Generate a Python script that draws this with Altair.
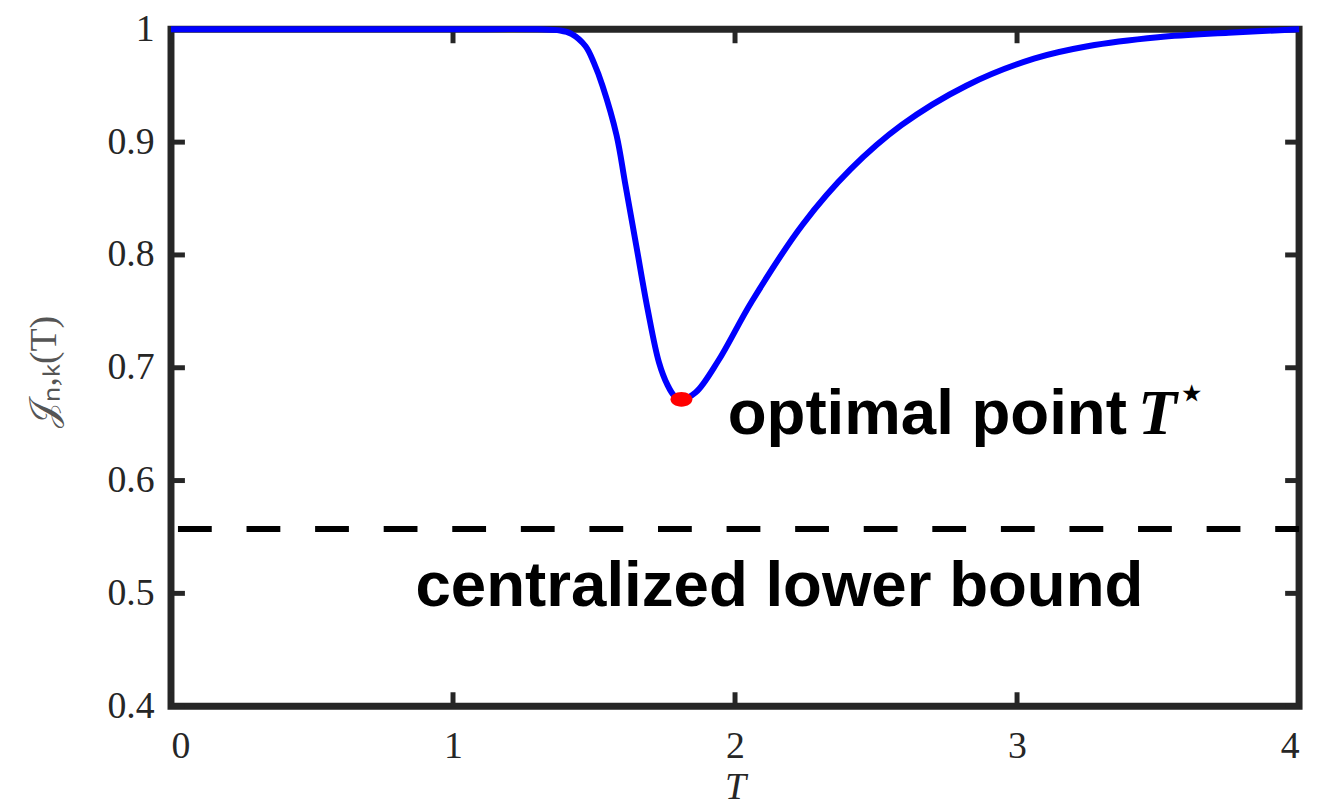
import altair as alt
import pandas as pd

# curve J_{n,k}(T)
T_vals = [0, 0.5, 1.0, 1.3, 1.38, 1.42, 1.47, 1.50, 1.53, 1.58, 1.61, 1.65, 1.69, 1.73,
          1.76, 1.785, 1.81, 1.86, 1.94, 2.06, 2.24, 2.41, 2.59, 2.82, 3.06, 3.25, 3.5, 3.75, 4.0]
J_vals = [1, 1, 1, 1, 0.999, 0.996, 0.985, 0.970, 0.950, 0.906, 0.864, 0.808, 0.752, 0.705,
          0.685, 0.675, 0.672, 0.678, 0.706, 0.759, 0.827, 0.876, 0.915, 0.950, 0.974, 0.985,
          0.993, 0.997, 1.0]

opt_T = [1.81]
opt_J = [0.672]

lower_bound = [0.557]

x_ticks = [0, 1, 2, 3, 4]
y_ticks = [0.4, 0.5, 0.6, 0.7, 0.8, 0.9, 1.0]

W, H = 1135, 681
FRAME = "#262626"

curve = pd.DataFrame({"T": T_vals, "J": J_vals})
opt = pd.DataFrame({"T": opt_T, "J": opt_J})
lb = pd.DataFrame({"J": lower_bound})
xt = pd.DataFrame({"T": x_ticks})
yt = pd.DataFrame({"J": y_ticks})

xscale = alt.Scale(domain=[0, 4], nice=False, zero=False)
yscale = alt.Scale(domain=[0.4, 1.0], nice=False, zero=False)

serif = "Liberation Serif"

x_axis = alt.Axis(values=x_ticks, format="d", ticks=False, tickSize=0, domain=False, grid=False,
                  labelFont=serif, labelFontSize=38, labelColor=FRAME, labelPadding=22,
                  title="T", titleFont=serif, titleFontStyle="italic", titleFontWeight="normal",
                  titleFontSize=38, titleColor=FRAME, titlePadding=3)
y_axis = alt.Axis(values=y_ticks, ticks=False, tickSize=0, domain=False, grid=False,
                  labelExpr="datum.value == 1 ? '1' : format(datum.value, '.1f')",
                  labelFont=serif, labelFontSize=38, labelColor=FRAME, labelPadding=17,
                  title="𝒥ₙ,ₖ(T)", titleFont=serif, titleFontWeight="normal",
                  titleFontSize=38, titleColor="#555555", titleAngle=270,
                  titleX=-127, titleY=344, titleAlign="center", titleBaseline="middle")

base_line = alt.Chart(curve).mark_line(color="#0000FF", strokeWidth=6, interpolate="catmull-rom").encode(
    x=alt.X("T:Q", scale=xscale, axis=x_axis),
    y=alt.Y("J:Q", scale=yscale, axis=y_axis),
)

tick_style = dict(color=FRAME, strokeWidth=5)
tb = alt.Chart(xt).mark_rule(**tick_style).encode(x=alt.X("T:Q", scale=xscale), y=alt.value(H), y2=alt.value(H - 14))
tt = alt.Chart(xt).mark_rule(**tick_style).encode(x=alt.X("T:Q", scale=xscale), y=alt.value(0), y2=alt.value(14))
tl = alt.Chart(yt).mark_rule(**tick_style).encode(y=alt.Y("J:Q", scale=yscale), x=alt.value(0), x2=alt.value(14))
tr = alt.Chart(yt).mark_rule(**tick_style).encode(y=alt.Y("J:Q", scale=yscale), x=alt.value(W), x2=alt.value(W - 14))

dashed = alt.Chart(lb).mark_rule(color="black", strokeWidth=6, strokeDash=[34, 35], strokeDashOffset=62).encode(
    y=alt.Y("J:Q", scale=yscale), x=alt.value(0), x2=alt.value(W)
)

ellipse = "M -1 0 A 1 0.68 0 1 0 1 0 A 1 0.68 0 1 0 -1 0 Z"
dot = alt.Chart(opt).mark_point(filled=True, color="#FF0000", opacity=1, shape=ellipse, size=484).encode(
    x=alt.X("T:Q", scale=xscale), y=alt.Y("J:Q", scale=yscale)
)

sans = "Liberation Sans"
txt_opt = alt.Chart(opt).mark_text(text="optimal point", font=sans, fontWeight="bold", fontSize=64,
                                   align="left", baseline="alphabetic", color="black").encode(
    x=alt.datum(1.974), y=alt.datum(0.641))
txt_T = alt.Chart(opt).mark_text(text="T", font=serif, fontStyle="italic", fontWeight="bold", fontSize=64,
                                 align="left", baseline="alphabetic", color="black").encode(
    x=alt.datum(3.429), y=alt.datum(0.641))
txt_star = alt.Chart(opt).mark_text(text="⋆", font="DejaVu Sans", fontSize=40, fontWeight="bold",
                                    align="left", baseline="middle", color="black").encode(
    x=alt.datum(3.575), y=alt.datum(0.677))
txt_lb = alt.Chart(lb).mark_text(text="centralized lower bound", font=sans, fontWeight="bold", fontSize=64,
                                 align="left", baseline="alphabetic", color="black").encode(
    x=alt.datum(0.867), y=alt.datum(0.489))

chart = alt.layer(tb, tt, tl, tr, dashed, base_line, dot, txt_opt, txt_T, txt_star, txt_lb).properties(
    width=W, height=H,
    padding={"left": 164, "top": 19, "right": 10, "bottom": 100},
    autosize="none",
    background="white",
).configure_view(stroke=FRAME, strokeWidth=7)

chart.save("out.html", embed_options={"renderer": "svg", "actions": False})
